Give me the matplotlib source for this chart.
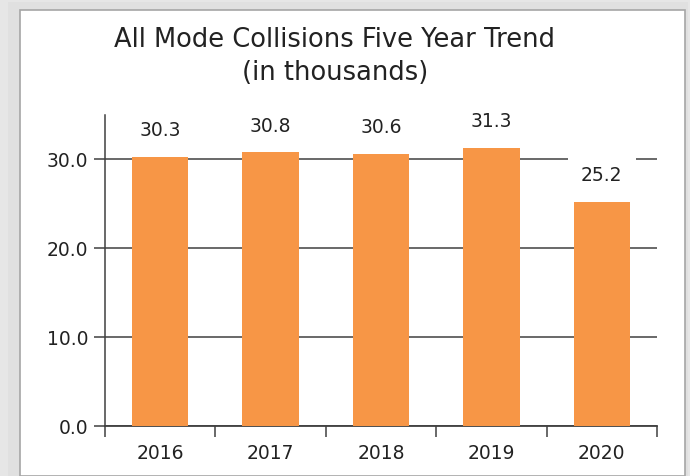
import matplotlib.pyplot as plt
from matplotlib.patches import Rectangle

years = ["2016", "2017", "2018", "2019", "2020"]
collisions = [30.3, 30.8, 30.6, 31.3, 25.2]
y_ticks = [0, 10, 20, 30]

bar_color = "#F79646"
text_color = "#222222"
line_color = "#404040"

plt.rcParams['font.family'] = ['DejaVu Sans']

fig = plt.figure(figsize=(6.9, 4.76), dpi=100)
fig.patch.set_facecolor("#e6e6e6")

# panel with a soft shadow on the left/top
W, H = 690, 476
for i, c in enumerate(["#c8c8c8", "#d4d4d4", "#e0e0e0"]):
    fig.patches.append(Rectangle(((16 - 4 * i) / W, 0), (672 + 4 * i) / W, (468 + 3 * i) / H,
                                 transform=fig.transFigure, facecolor=c,
                                 edgecolor="none", zorder=-3))
fig.patches.append(Rectangle((20 / W, 0), 665 / W, 466 / H,
                             transform=fig.transFigure, facecolor="white",
                             edgecolor="#a6a6a6", linewidth=1.2, zorder=-2))

ax = fig.add_axes([105 / W, 1 - 426 / H, 552 / W, 311 / H])
ax.set_facecolor("none")
ax.set_zorder(2)

x = range(len(years))
ax.bar(x, collisions, width=0.51, color=bar_color, zorder=3)

# labels sit on white boxes, which break the gridline above the 2020 bar
for i, v in enumerate(collisions):
    ax.annotate(f"{v:.1f}", (i, v), xytext=(0, 12), textcoords="offset points",
                ha="center", va="bottom", fontsize=13.5, color=text_color,
                bbox=dict(boxstyle="square,pad=0.7", fc="white", ec="none"),
                zorder=4)

ax.set_xlim(-0.5, len(years) - 0.5)
ax.set_ylim(0, 35)
ax.set_yticks(y_ticks)
ax.set_yticklabels([f"{t:.1f}" for t in y_ticks], fontsize=13.5, color=text_color)
ax.yaxis.grid(True, color=line_color, linewidth=1.1, zorder=1)
ax.set_axisbelow(True)
ax.tick_params(axis="y", length=8, width=1.1, color=line_color, pad=4)

ax.set_xticks(list(x))
ax.set_xticklabels(years, fontsize=13.5, color=text_color)
ax.set_xticks([i - 0.5 for i in range(len(years) + 1)], minor=True)
ax.tick_params(axis="x", which="major", length=0, pad=13)
ax.tick_params(axis="x", which="minor", length=8, width=1.1, color=line_color)

for s in ["top", "right"]:
    ax.spines[s].set_visible(False)
ax.spines["left"].set_color(line_color)
ax.spines["bottom"].set_color(line_color)
ax.spines["left"].set_linewidth(1.1)
ax.spines["bottom"].set_linewidth(1.3)

fig.text(335 / W, 1 - 40 / H, "All Mode Collisions Five Year Trend",
         ha="center", va="center", fontsize=18.5, color=text_color)
fig.text(335 / W, 1 - 73 / H, "(in thousands)",
         ha="center", va="center", fontsize=18.5, color=text_color)

fig.savefig("out.png", dpi=100)
